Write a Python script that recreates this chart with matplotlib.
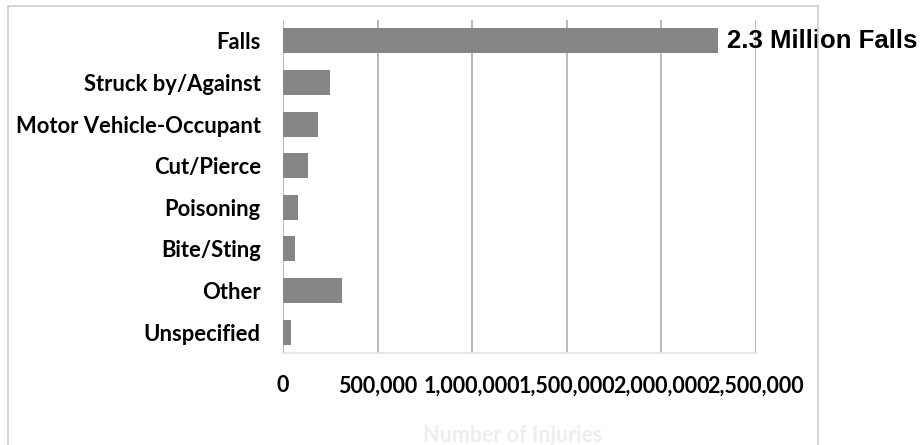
import matplotlib.pyplot as plt
from matplotlib.patches import Rectangle

# nonfatal injuries by cause
causes = [
    "Falls",
    "Struck by/Against",
    "Motor Vehicle-Occupant",
    "Cut/Pierce",
    "Poisoning",
    "Bite/Sting",
    "Other",
    "Unspecified",
]
injuries = [2300000, 249000, 185000, 134000, 81000, 64000, 310000, 42000]
x_ticks = [0, 500000, 1000000, 1500000, 2000000, 2500000]

bar_color = "#868686"
label_font = ["Lato", "DejaVu Sans"]

fig = plt.figure(figsize=(9.23, 4.45), dpi=100)
ax = fig.add_axes([0.3066, 0.2067, 0.5122, 0.7484])

ys = list(range(len(causes)))
ax.barh(ys, injuries, height=0.6, color=bar_color, zorder=3)

ax.set_xlim(0, 2500000)
ax.set_ylim(len(causes) - 0.5, -0.5)

ax.set_yticks(ys)
ax.set_yticklabels(causes, fontsize=15.8, fontweight="bold", family=label_font)
ax.set_xticks(x_ticks)
ax.set_xticklabels([f"{t:,}" for t in x_ticks], fontsize=15.5,
                   fontweight="bold", family=label_font)
ax.tick_params(axis="y", length=0, pad=16)
ax.tick_params(axis="x", length=0, pad=16)

ax.grid(axis="x", color="#b3b3b3", linewidth=1.3, zorder=0)
ax.grid(axis="y", visible=False)
for side in ["top", "right", "left"]:
    ax.spines[side].set_visible(False)
ax.spines["bottom"].set_color("#e3e3e3")
ax.spines["bottom"].set_linewidth(1.2)

# label on the biggest bar
falls = injuries[0]
ax.annotate(f"{falls / 1e6:.1f} Million Falls", xy=(falls, 0),
            xytext=(6.5, 0), textcoords="offset points",
            ha="left", va="center", fontsize=18.5, fontweight="bold",
            family=["Liberation Sans", "DejaVu Sans"],
            annotation_clip=False, zorder=4)

ax.set_xlabel("Number of Injuries", fontsize=15.5, color="#eeeeee",
              fontweight="bold", family=label_font)
ax.xaxis.set_label_coords(0.485, -0.215)

# chart-area frame
fig.patches.append(Rectangle((8 / 923, -0.1), 810 / 923, 1 - 6 / 445 + 0.1,
                             transform=fig.transFigure, fill=False,
                             edgecolor="#cfcfcf", linewidth=1.2))

fig.savefig("out.png", dpi=100)
